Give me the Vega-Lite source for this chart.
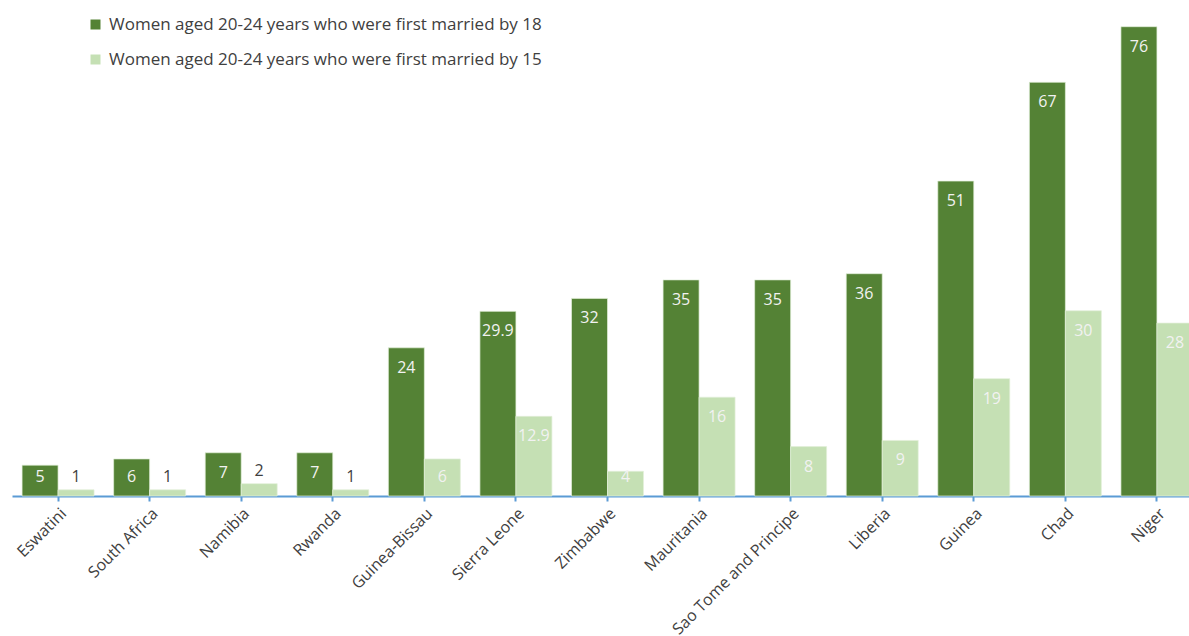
{
  "$schema": "https://vega.github.io/schema/vega-lite/v6.json",
  "width": 1191,
  "height": 494,
  "autosize": {"type": "none"},
  "padding": {"left": 12, "top": 2, "right": 0, "bottom": 140},
  "background": "white",
  "config": {
    "view": {"stroke": null},
    "font": "Open Sans"
  },
  "data": {
    "values": [
      {"country": "Eswatini", "series": "Women aged 20-24 years who were first married by 18", "value": 5},
      {"country": "Eswatini", "series": "Women aged 20-24 years who were first married by 15", "value": 1},
      {"country": "South Africa", "series": "Women aged 20-24 years who were first married by 18", "value": 6},
      {"country": "South Africa", "series": "Women aged 20-24 years who were first married by 15", "value": 1},
      {"country": "Namibia", "series": "Women aged 20-24 years who were first married by 18", "value": 7},
      {"country": "Namibia", "series": "Women aged 20-24 years who were first married by 15", "value": 2},
      {"country": "Rwanda", "series": "Women aged 20-24 years who were first married by 18", "value": 7},
      {"country": "Rwanda", "series": "Women aged 20-24 years who were first married by 15", "value": 1},
      {"country": "Guinea-Bissau", "series": "Women aged 20-24 years who were first married by 18", "value": 24},
      {"country": "Guinea-Bissau", "series": "Women aged 20-24 years who were first married by 15", "value": 6},
      {"country": "Sierra Leone", "series": "Women aged 20-24 years who were first married by 18", "value": 29.9},
      {"country": "Sierra Leone", "series": "Women aged 20-24 years who were first married by 15", "value": 12.9},
      {"country": "Zimbabwe", "series": "Women aged 20-24 years who were first married by 18", "value": 32},
      {"country": "Zimbabwe", "series": "Women aged 20-24 years who were first married by 15", "value": 4},
      {"country": "Mauritania", "series": "Women aged 20-24 years who were first married by 18", "value": 35},
      {"country": "Mauritania", "series": "Women aged 20-24 years who were first married by 15", "value": 16},
      {"country": "Sao Tome and Principe", "series": "Women aged 20-24 years who were first married by 18", "value": 35},
      {"country": "Sao Tome and Principe", "series": "Women aged 20-24 years who were first married by 15", "value": 8},
      {"country": "Liberia", "series": "Women aged 20-24 years who were first married by 18", "value": 36},
      {"country": "Liberia", "series": "Women aged 20-24 years who were first married by 15", "value": 9},
      {"country": "Guinea", "series": "Women aged 20-24 years who were first married by 18", "value": 51},
      {"country": "Guinea", "series": "Women aged 20-24 years who were first married by 15", "value": 19},
      {"country": "Chad", "series": "Women aged 20-24 years who were first married by 18", "value": 67},
      {"country": "Chad", "series": "Women aged 20-24 years who were first married by 15", "value": 30},
      {"country": "Niger", "series": "Women aged 20-24 years who were first married by 18", "value": 76},
      {"country": "Niger", "series": "Women aged 20-24 years who were first married by 15", "value": 28}
    ]
  },
  "encoding": {
    "x": {
      "field": "country",
      "type": "nominal",
      "sort": null,
      "scale": {"paddingInner": 0.214, "paddingOuter": 0.11},
      "axis": {
        "title": null,
        "labelAngle": -45,
        "labelFontSize": 16,
        "labelColor": "#404040",
        "labelFont": "Open Sans",
        "domainColor": "#5b9bd5",
        "domainWidth": 2,
        "tickColor": "#5b9bd5",
        "tickWidth": 2,
        "tickSize": 5,
        "labelPadding": 4
      }
    },
    "xOffset": {
      "field": "series",
      "type": "nominal",
      "scale": {
        "domain": ["Women aged 20-24 years who were first married by 18", "Women aged 20-24 years who were first married by 15"],
        "paddingInner": 0,
        "paddingOuter": 0
      }
    }
  },
  "layer": [
    {
      "mark": {"type": "bar", "stroke": "#e2efda", "strokeWidth": 0.7},
      "encoding": {
        "y": {
          "field": "value",
          "type": "quantitative",
          "scale": {"domain": [0, 80], "nice": false},
          "axis": null
        },
        "color": {
          "field": "series",
          "type": "nominal",
          "scale": {
            "domain": ["Women aged 20-24 years who were first married by 18", "Women aged 20-24 years who were first married by 15"],
            "range": ["#548235", "#c5e0b4"]
          },
          "legend": {
            "title": null,
            "orient": "none",
            "legendX": 75,
            "legendY": 14,
            "symbolType": "square",
            "symbolSize": 100,
            "symbolStrokeWidth": 0,
            "labelFontSize": 17,
            "labelFont": "Open Sans",
            "labelColor": "#404040",
            "labelOffset": 5,
            "rowPadding": 17,
            "padding": 0,
            "labelLimit": 600
          }
        }
      }
    },
    {
      "transform": [{"filter": "datum.value >= 7"}],
      "mark": {"type": "text", "dy": 20, "fontSize": 16, "color": "#f2f2f2", "baseline": "middle", "font": "Open Sans"},
      "encoding": {
        "y": {"field": "value", "type": "quantitative"},
        "text": {"field": "value", "type": "quantitative"}
      }
    },
    {
      "transform": [{"filter": "datum.value > 3 && datum.value < 7"}],
      "mark": {"type": "text", "dy": -19, "fontSize": 16, "color": "#f2f2f2", "baseline": "middle", "font": "Open Sans"},
      "encoding": {
        "y": {"datum": 0, "type": "quantitative"},
        "text": {"field": "value", "type": "quantitative"}
      }
    },
    {
      "transform": [{"filter": "datum.value <= 3"}],
      "mark": {"type": "text", "dy": -13, "fontSize": 16, "color": "#404040", "baseline": "middle", "font": "Open Sans"},
      "encoding": {
        "y": {"field": "value", "type": "quantitative"},
        "text": {"field": "value", "type": "quantitative"}
      }
    }
  ]
}
